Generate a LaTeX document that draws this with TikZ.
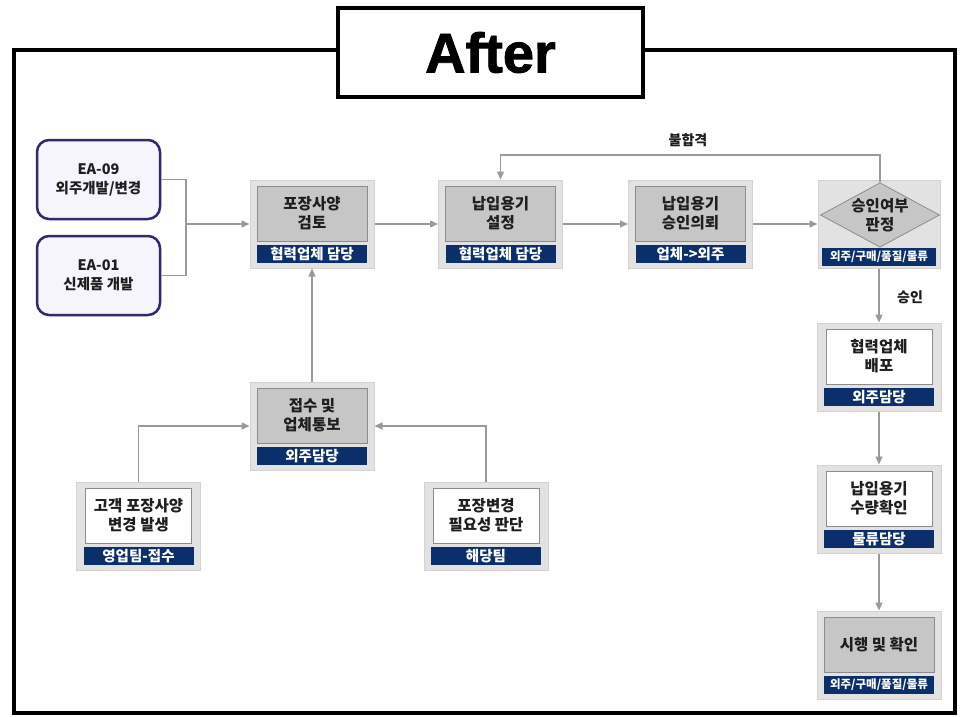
\documentclass[tikz,border=0pt]{standalone}
\usepackage{fontspec}
\setmainfont{Noto Sans CJK KR}
\newfontfamily\titlefont{Liberation Sans}[BoldFeatures={FakeBold=1.5}]
\usetikzlibrary{arrows.meta,shapes.geometric,calc}
\definecolor{navy}{HTML}{0B2F6B}
\definecolor{framegray}{HTML}{E2E2E2}
\definecolor{framebd}{HTML}{D2D2D2}
\definecolor{innergray}{HTML}{C6C6C6}
\definecolor{innerbd}{HTML}{8C8C8C}
\definecolor{conncol}{HTML}{9A9A9A}
\definecolor{eabd}{HTML}{2E2A6E}
\definecolor{eafill}{HTML}{F6F4FC}
\definecolor{txt}{HTML}{1E1E1E}
\tikzset{
  outerbox/.style={draw=framebd, fill=framegray, line width=1pt, minimum width=124pt, minimum height=88pt, inner sep=0pt},
  graybox/.style={draw=innerbd, fill=innergray, line width=0.8pt, minimum width=110pt, minimum height=55pt, inner sep=0pt, align=center, font=\bfseries\fontsize{15.5}{19}\selectfont, text=txt},
  whitebox/.style={draw=innerbd, fill=white, line width=0.8pt, minimum width=106pt, minimum height=55pt, inner sep=0pt, align=center, font=\bfseries\fontsize{15.5}{19}\selectfont, text=txt},
  barbox/.style={fill=navy, minimum width=110pt, minimum height=18pt, inner sep=0pt, text=white, font=\bfseries\fontsize{14.5}{15}\selectfont},
  smallbar/.style={barbox, font=\bfseries\fontsize{11.5}{13}\selectfont},
  eabox/.style={draw=eabd, fill=eafill, line width=2.5pt, rounded corners=12pt, minimum width=123pt, minimum height=79pt, align=center, font=\bfseries\fontsize{14.5}{19}\selectfont, text=txt},
  conn/.style={draw=conncol, line width=1.3pt},
  arr/.style={conn, -{Triangle[length=8pt,width=7pt]}},
  lbl/.style={font=\bfseries\fontsize{14}{15}\selectfont, text=txt},
}
\newcommand{\mybox}[7]{%
  \node[outerbox] (#1) at (#2,#3+44) {};
  \node[#6] (#1i) at (#2,#3+33.5) {#4};
  \node[#7] (#1b) at (#2,#3+74) {#5};
}
\begin{document}
\begin{tikzpicture}[x=1pt,y=-1pt]
\useasboundingbox (0,0) rectangle (962,717);
\fill[white] (0,0) rectangle (962,717);
% outer frame
\draw[line width=4pt] (14,50) rectangle (955,713);
\node[draw, line width=4pt, fill=white, minimum width=305pt, minimum height=89pt, font=\titlefont\bfseries\fontsize{56}{60}\selectfont] (title) at (490.5,52.5) {After};

% EA boxes
\node[eabox] (ea09) at (98.5,179.5) {EA-09\\외주개발/변경};
\node[eabox] (ea01) at (98.5,275.5) {EA-01\\신제품 개발};
\coordinate (j) at (186,224);

% process boxes
\mybox{b1}{312}{180}{포장사양\\검토}{협력업체 담당}{graybox}{barbox}
\mybox{b2}{500.5}{180}{납입용기\\설정}{협력업체 담당}{graybox}{barbox}
\mybox{b3}{690.5}{180}{납입용기\\승인의뢰}{업체->외주}{graybox}{barbox}
% decision
\node[outerbox, minimum width=122pt] (b4) at (879,224) {};
\node[diamond, draw=innerbd, fill=innergray, line width=0.8pt, minimum width=118pt, minimum height=64pt, inner sep=0pt, aspect=1.85, align=center, font=\bfseries\fontsize{15.5}{19}\selectfont, text=txt] (b4d) at (880,215) {승인여부\\판정};
\node[smallbar, minimum width=114pt] (b4b) at (879,256.5) {외주/구매/품질/물류};

\mybox{b5}{879}{323}{협력업체\\배포}{외주담당}{whitebox}{barbox}
\mybox{b6}{879}{465}{납입용기\\수량확인}{물류담당}{whitebox}{barbox}
\mybox{b7}{879}{611}{시행 및 확인}{외주/구매/품질/물류}{graybox}{smallbar}

\mybox{b8}{312}{382}{접수 및\\업체통보}{외주담당}{graybox}{barbox}
\mybox{b9}{138.5}{482}{고객 포장사양\\변경 발생}{영업팀-접수}{whitebox}{barbox}
\mybox{b10}{486}{482}{포장변경\\필요성 판단}{해당팀}{whitebox}{barbox}

% connectors
\draw[conn] (ea09.east) -| (j) |- (ea01.east);
\draw[arr] (j) -- (b1.west);
\draw[arr] (b1.east) -- (b2.west);
\draw[arr] (b2.east) -- (b3.west);
\draw[arr] (b3.east) -- (b4.west);
\coordinate (loop) at (880,155);
\draw[arr] (b4d.north) -- (loop) -| (b2.north);
\node[lbl] (lfail) at (688,140) {불합격};
\draw[arr] (b4.south) -- (b5.north);
\node[lbl] (lok) at (910,297) {승인};
\draw[arr] (b5.south) -- (b6.north);
\draw[arr] (b6.south) -- (b7.north);
\draw[arr] (b8.north) -- (b1.south);
\draw[arr] (b9.north) |- (b8.west);
\draw[arr] (b10.north) |- (b8.east);
\end{tikzpicture}
\end{document}
